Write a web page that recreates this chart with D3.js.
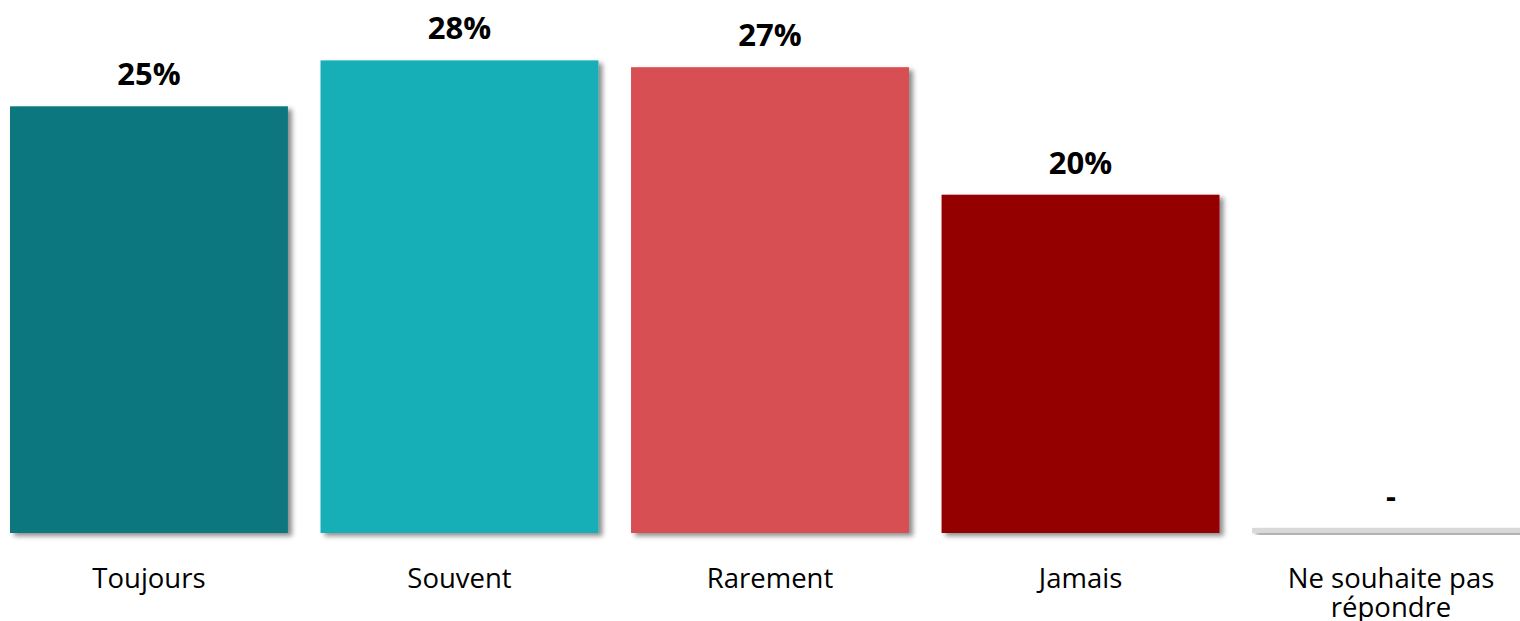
<!DOCTYPE html>
<html><head><meta charset="utf-8">
<script src="https://cdn.jsdelivr.net/npm/d3@7"></script>
<style>html,body{margin:0;padding:0;background:#fff;}svg{display:block;}</style>
</head><body>
<script>
const categories = ["Toujours", "Souvent", "Rarement", "Jamais", "Ne souhaite pas|répondre"];
const values = [25.1, 27.8, 27.4, 19.9, 0.3];
const valueLabels = ["25%", "28%", "27%", "20%", "-"];
const colors = ["#10777f", "#14afb8", "#d84f52", "#940000", "#d9d9d9"];

const W = 1520, H = 621;
const svg = d3.select("body").append("svg").attr("width", W).attr("height", H);
const defs = svg.append("defs");
const f = defs.append("filter").attr("id", "sh").attr("x", "-10%").attr("y", "-10%").attr("width", "130%").attr("height", "130%");
f.append("feDropShadow").attr("dx", 4).attr("dy", 3).attr("stdDeviation", 2.5).attr("flood-color", "#000").attr("flood-opacity", 0.45);

const x = d3.scaleBand().domain(categories).range([10, 1530]).paddingInner(0.105).paddingOuter(0);
const y = d3.scaleLinear().domain([0, 30]).range([533, 533 - 17 * 30]);

svg.append("g").selectAll("rect").data(categories).join("rect")
  .attr("x", d => x(d)).attr("width", x.bandwidth())
  .attr("y", (d, i) => y(values[i])).attr("height", (d, i) => y(0) - y(values[i]))
  .attr("fill", (d, i) => colors[i]).attr("filter", "url(#sh)");

svg.append("g").selectAll("text").data(categories).join("text")
  .attr("x", d => x(d) + x.bandwidth() / 2)
  .attr("y", (d, i) => y(values[i]) - 21)
  .attr("text-anchor", "middle")
  .attr("font-family", "'Open Sans', sans-serif").attr("font-weight", "bold").attr("font-size", 31)
  .attr("fill", "#000")
  .text((d, i) => valueLabels[i]);

const cl = svg.append("g").selectAll("text").data(categories).join("text")
  .attr("x", d => x(d) + x.bandwidth() / 2)
  .attr("y", 588)
  .attr("text-anchor", "middle")
  .attr("font-family", "'Open Sans', sans-serif").attr("font-size", 27.5)
  .attr("fill", "#000");
cl.each(function(d) {
  const parts = d.split("|");
  const t = d3.select(this);
  parts.forEach((p, j) => t.append("tspan").attr("x", x(d) + x.bandwidth() / 2).attr("dy", j === 0 ? 0 : 29).text(p));
});
</script>
</body></html>
